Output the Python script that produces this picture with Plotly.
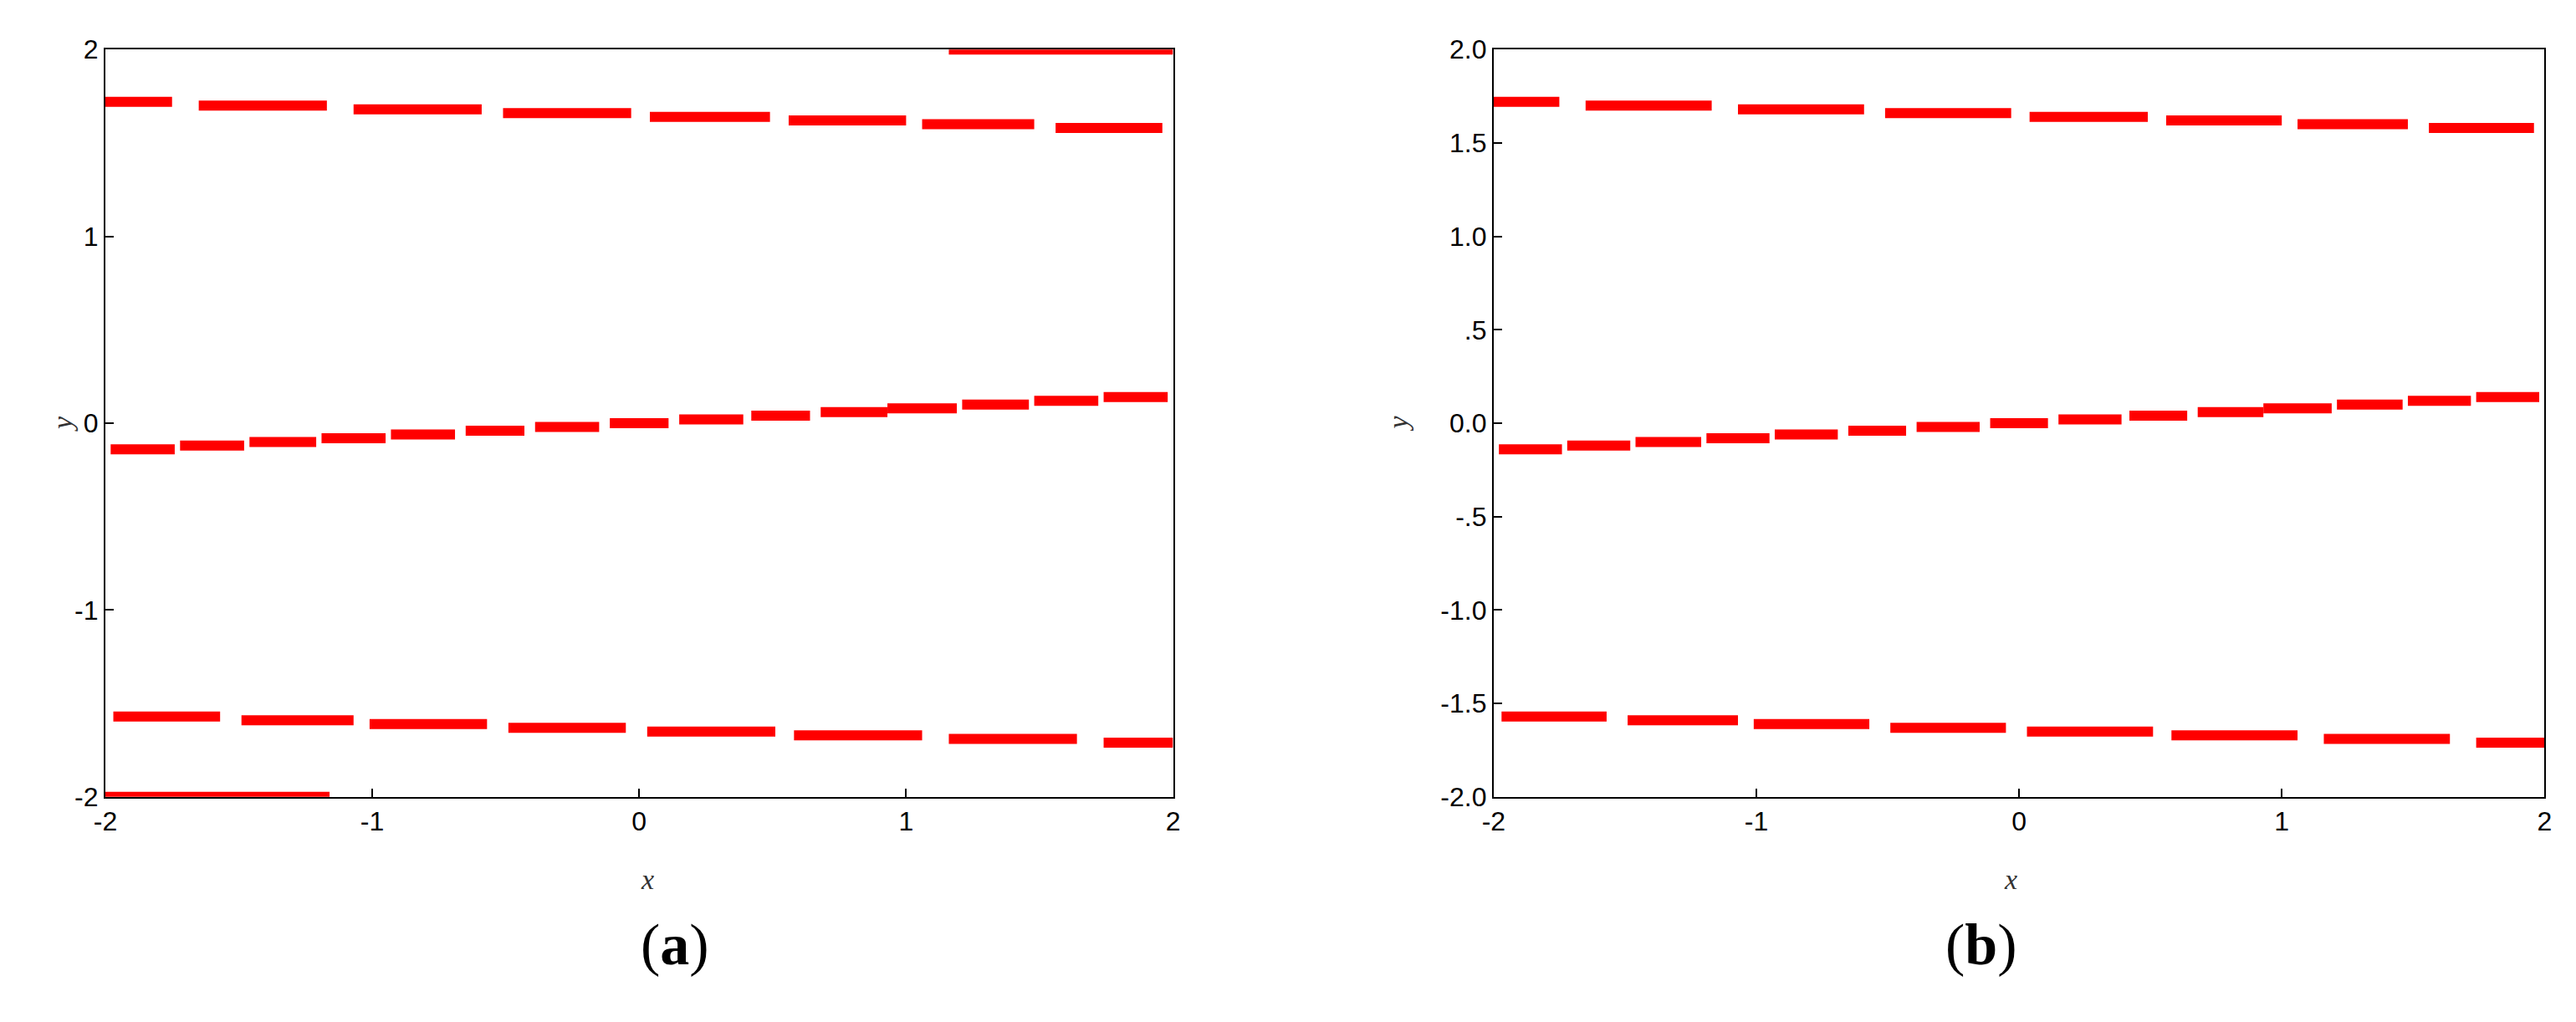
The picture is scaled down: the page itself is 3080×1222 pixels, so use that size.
import plotly.graph_objects as go

# segment data: (x_start, x_end, y)
top_x0 = [-2.0, -1.65, -1.07, -0.51, 0.04, 0.56, 1.06, 1.56]
top_x1 = [-1.75, -1.17, -0.59, -0.03, 0.49, 1.00, 1.48, 1.96]
top_y = [1.72, 1.70, 1.68, 1.66, 1.64, 1.62, 1.60, 1.58]
mid_x0 = [-1.98, -1.72, -1.46, -1.19, -0.93, -0.65, -0.39, -0.11, 0.15, 0.42, 0.68, 0.93, 1.21, 1.48, 1.74]
mid_x1 = [-1.74, -1.48, -1.21, -0.95, -0.69, -0.43, -0.15, 0.11, 0.39, 0.64, 0.93, 1.19, 1.46, 1.72, 1.98]
mid_y = [-0.14, -0.12, -0.10, -0.08, -0.06, -0.04, -0.02, 0.0, 0.02, 0.04, 0.06, 0.08, 0.10, 0.12, 0.14]
bot_x0 = [-1.97, -1.49, -1.01, -0.49, 0.03, 0.58, 1.16, 1.74]
bot_x1 = [-1.57, -1.07, -0.57, -0.05, 0.51, 1.06, 1.64, 2.0]
bot_y = [-1.57, -1.59, -1.61, -1.63, -1.65, -1.67, -1.69, -1.71]
edge_x0 = [1.16, -2.0]   # only in panel (a)
edge_x1 = [2.0, -1.16]
edge_y = [2.0, -2.0]

x_ticks = [-2, -1, 0, 1, 2]
x_text = ["-2", "-1", "0", "1", "2"]
ya_ticks = [-2, -1, 0, 1, 2]
ya_text = ["-2", "-1", "0", "1", "2"]
yb_ticks = [-2.0, -1.5, -1.0, -0.5, 0.0, 0.5, 1.0, 1.5, 2.0]
yb_text = ["-2.0", "-1.5", "-1.0", "-.5", "0.0", ".5", "1.0", "1.5", "2.0"]

RED = "#ff0000"

def seg_xy(x0s, x1s, ys):
    xs, yy = [], []
    for a, b, c in zip(x0s, x1s, ys):
        xs += [a, b, None]
        yy += [c, c, None]
    return xs, yy

fig = go.Figure()
groups_a = [(top_x0, top_x1, top_y), (mid_x0, mid_x1, mid_y), (bot_x0, bot_x1, bot_y), (edge_x0, edge_x1, edge_y)]
groups_b = groups_a[:3]
for axn, groups in (("", groups_a), ("2", groups_b)):
    for g in groups:
        xs, yy = seg_xy(*g)
        fig.add_trace(go.Scatter(x=xs, y=yy, mode="lines", xaxis="x" + axn, yaxis="y" + axn,
                                 line=dict(color=RED, width=12), cliponaxis=False, showlegend=False))

tickfont = dict(family="Liberation Sans, Arial", size=32, color="black")
ax_common = dict(showgrid=False, zeroline=False, showline=True, linecolor="black", linewidth=2,
                 mirror=True, ticks="inside", ticklen=10, tickwidth=2, tickcolor="black", tickfont=tickfont)

fig.update_layout(
    width=3080, height=1222, margin=dict(l=0, r=0, t=0, b=0),
    paper_bgcolor="white", plot_bgcolor="white",
    xaxis=dict(domain=[0.034, 0.4516], range=[-2, 2], tickvals=x_ticks, ticktext=x_text, anchor="y", **ax_common),
    yaxis=dict(domain=[0.2185, 0.972], range=[-2, 2], tickvals=ya_ticks, ticktext=ya_text, anchor="x", **ax_common),
    xaxis2=dict(domain=[0.577, 0.988], range=[-2, 2], tickvals=x_ticks, ticktext=x_text, anchor="y2", **ax_common),
    yaxis2=dict(domain=[0.2185, 0.972], range=[-2, 2], tickvals=yb_ticks, ticktext=yb_text, anchor="x2", **ax_common),
)

serif = "Liberation Serif, Times New Roman"
ann = [
    dict(x=0.2428, y=0.118, text="<i>x</i>"),
    dict(x=0.7825, y=0.118, text="<i>x</i>"),
    dict(x=0.0105, y=0.595, text="<i>y</i>", textangle=-90),
    dict(x=0.5395, y=0.595, text="<i>y</i>", textangle=-90),
]
for a in ann:
    fig.add_annotation(xref="paper", yref="paper", showarrow=False, font=dict(family=serif, size=34, color="#333"), **a)
fig.add_annotation(xref="paper", yref="paper", x=0.2428, y=0.035, text="(<b>a</b>)", showarrow=False,
                   font=dict(family=serif, size=70, color="black"))
fig.add_annotation(xref="paper", yref="paper", x=0.7825, y=0.035, text="(<b>b</b>)", showarrow=False,
                   font=dict(family=serif, size=70, color="black"))

fig.write_html("out.html")
